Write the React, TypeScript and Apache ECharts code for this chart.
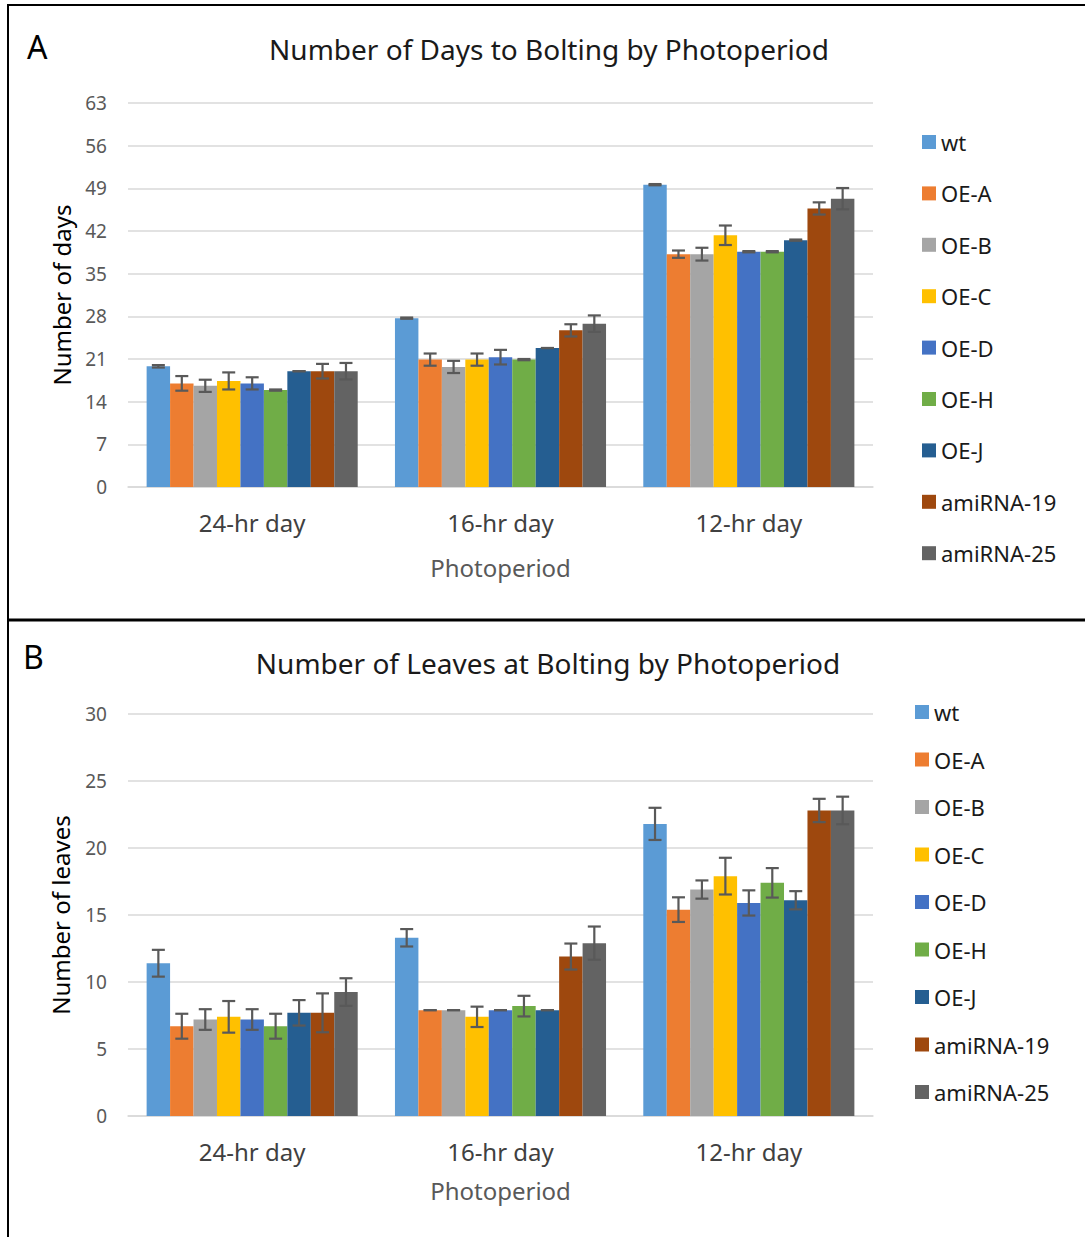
import React, { useEffect, useRef } from "react";
import * as echarts from "echarts";

const categories = ["24-hr day", "16-hr day", "12-hr day"];
const seriesNames = ["wt", "OE-A", "OE-B", "OE-C", "OE-D", "OE-H", "OE-J", "amiRNA-19", "amiRNA-25"];
const colors = ["#5B9BD5", "#ED7D31", "#A5A5A5", "#FFC000", "#4472C4", "#70AD47", "#255E91", "#9E480E", "#636363"];

const daysTicks = [0, 63, 7];
const leavesTicks = [0, 30, 5];

const daysMean = [
  [19.8, 27.7, 49.6],
  [17.0, 20.9, 38.2],
  [16.6, 19.7, 38.2],
  [17.4, 20.9, 41.3],
  [17.0, 21.3, 38.6],
  [15.9, 20.9, 38.6],
  [19.0, 22.8, 40.5],
  [19.0, 25.7, 45.7],
  [19.0, 26.8, 47.3],
];
const daysErr = [
  [0.2, 0.1, 0.1],
  [1.2, 1.0, 0.6],
  [1.0, 1.0, 1.05],
  [1.4, 1.0, 1.6],
  [1.0, 1.2, 0.1],
  [0.1, 0.1, 0.1],
  [0, 0, 0.1],
  [1.2, 1.0, 1.0],
  [1.35, 1.35, 1.75],
];
const leavesMean = [
  [11.4, 13.3, 21.8],
  [6.7, 7.9, 15.4],
  [7.2, 7.9, 16.9],
  [7.4, 7.4, 17.9],
  [7.2, 7.9, 15.9],
  [6.7, 8.2, 17.4],
  [7.7, 7.9, 16.1],
  [7.7, 11.9, 22.8],
  [9.25, 12.9, 22.8],
];
const leavesErr = [
  [1.0, 0.65, 1.2],
  [0.93, 0, 0.92],
  [0.77, 0, 0.68],
  [1.18, 0.76, 1.37],
  [0.77, 0, 0.94],
  [0.93, 0.77, 1.1],
  [0.95, 0, 0.68],
  [1.45, 0.97, 0.87],
  [1.03, 1.24, 1.03],
];

const FONT = "Noto Sans";
const CAT_GAP = 0.15;

function buildSeries(gridIdx: number, means: number[][], errs: number[][]) {
  const out: any[] = [];
  const n = seriesNames.length;
  seriesNames.forEach((name, i) => {
    out.push({
      type: "bar",
      name,
      xAxisIndex: gridIdx,
      yAxisIndex: gridIdx,
      data: means[i],
      barGap: "0%",
      barCategoryGap: CAT_GAP * 100 + "%",
      itemStyle: { color: colors[i] },
      z: 2,
    });
  });
  seriesNames.forEach((name, i) => {
    out.push({
      type: "custom",
      name: name + " err",
      xAxisIndex: gridIdx,
      yAxisIndex: gridIdx,
      z: 5,
      data: means[i].map((m, k) => [k, m, errs[i][k]]),
      encode: { x: 0, y: 1 },
      renderItem: (params: any, api: any) => {
        const cat = api.value(0);
        const m = api.value(1);
        const e = api.value(2);
        const band = api.size([1, 0])[0];
        const barW = (band * (1 - CAT_GAP)) / n;
        const xc = api.coord([cat, 0])[0] + (i - (n - 1) / 2) * barW;
        const yTop = api.coord([cat, m + e])[1];
        const yBot = api.coord([cat, m - e])[1];
        const cap = 6.5;
        const st = { stroke: "#595959", lineWidth: 2.2 };
        return {
          type: "group",
          children: [
            { type: "line", shape: { x1: xc, y1: yTop, x2: xc, y2: yBot }, style: st },
            { type: "line", shape: { x1: xc - cap, y1: yTop, x2: xc + cap, y2: yTop }, style: st },
            { type: "line", shape: { x1: xc - cap, y1: yBot, x2: xc + cap, y2: yBot }, style: st },
          ],
        };
      },
    });
  });
  return out;
}

export default function App() {
  const ref = useRef<HTMLDivElement>(null);
  useEffect(() => {
    if (!ref.current) return;
    const chart = echarts.init(ref.current, null, { renderer: "svg" });
    const axisLabelCommon = { fontFamily: FONT, color: "#595959" };
    const xAxisBase = {
      type: "category",
      data: categories,
      axisLine: { lineStyle: { color: "#D9D9D9", width: 1.5 } },
      axisTick: { show: false },
      axisLabel: { ...axisLabelCommon, fontSize: 24, color: "#404040", margin: 23 },
      name: "Photoperiod",
      nameLocation: "middle",
      nameTextStyle: { fontFamily: FONT, fontSize: 24, color: "#595959" },
    };
    const yAxisBase = {
      type: "value",
      axisLine: { show: false },
      axisTick: { show: false },
      splitLine: { lineStyle: { color: "#D9D9D9", width: 1.5 } },
      axisLabel: { ...axisLabelCommon, fontSize: 19, margin: 21 },
      nameLocation: "middle",
      nameRotate: 90,
      nameTextStyle: { fontFamily: FONT, fontSize: 24, color: "#000000" },
    };
    const legendBase = {
      orient: "vertical",
      icon: "rect",
      itemWidth: 14,
      itemHeight: 14,
      textStyle: { fontFamily: FONT, fontSize: 22, color: "#1a1a1a", lineHeight: 22 },
      data: seriesNames,
      selectedMode: false,
    };
    chart.setOption({
      animation: false,
      backgroundColor: "#ffffff",
      grid: [
        { left: 128, right: 212, top: 103, bottom: 750 },
        { left: 128, right: 212, top: 714, bottom: 121 },
      ],
      xAxis: [
        { ...xAxisBase, gridIndex: 0, nameGap: 68 },
        { ...xAxisBase, gridIndex: 1, nameGap: 62 },
      ],
      yAxis: [
        { ...yAxisBase, gridIndex: 0, min: daysTicks[0], max: daysTicks[1], interval: daysTicks[2], name: "Number of days", nameGap: 55 },
        { ...yAxisBase, gridIndex: 1, min: leavesTicks[0], max: leavesTicks[1], interval: leavesTicks[2], name: "Number of leaves", nameGap: 56 },
      ],
      legend: [
        { ...legendBase, left: 917, top: 126, itemGap: 29.4, itemTextGap: 8 },
        { ...legendBase, left: 910, top: 696, itemGap: 25.5, itemTextGap: 6 },
      ],
      graphic: [
        { type: "line", shape: { x1: 8, y1: 5, x2: 1085, y2: 5 }, style: { stroke: "#000", lineWidth: 2 } },
        { type: "line", shape: { x1: 8, y1: 4, x2: 8, y2: 1237 }, style: { stroke: "#000", lineWidth: 2 } },
        { type: "line", shape: { x1: 8, y1: 620, x2: 1085, y2: 620 }, style: { stroke: "#000", lineWidth: 3 } },
        { type: "text", x: 27, y: 46, style: { text: "A", fontFamily: FONT, fontSize: 32, fill: "#000", verticalAlign: "middle" } },
        { type: "text", x: 23, y: 656, style: { text: "B", fontFamily: FONT, fontSize: 32, fill: "#000", verticalAlign: "middle" } },
        { type: "text", x: 549, y: 49, style: { text: "Number of Days to Bolting by Photoperiod", fontFamily: FONT, fontSize: 28, fill: "#1a1a1a", align: "center", verticalAlign: "middle" } },
        { type: "text", x: 548, y: 663, style: { text: "Number of Leaves at Bolting by Photoperiod", fontFamily: FONT, fontSize: 28, fill: "#1a1a1a", align: "center", verticalAlign: "middle" } },
      ],
      series: [...buildSeries(0, daysMean, daysErr), ...buildSeries(1, leavesMean, leavesErr)],
    });
    return () => chart.dispose();
  }, []);
  return <div ref={ref} style={{ position: "absolute", left: 0, top: 0, width: 1085, height: 1237 }} />;
}
